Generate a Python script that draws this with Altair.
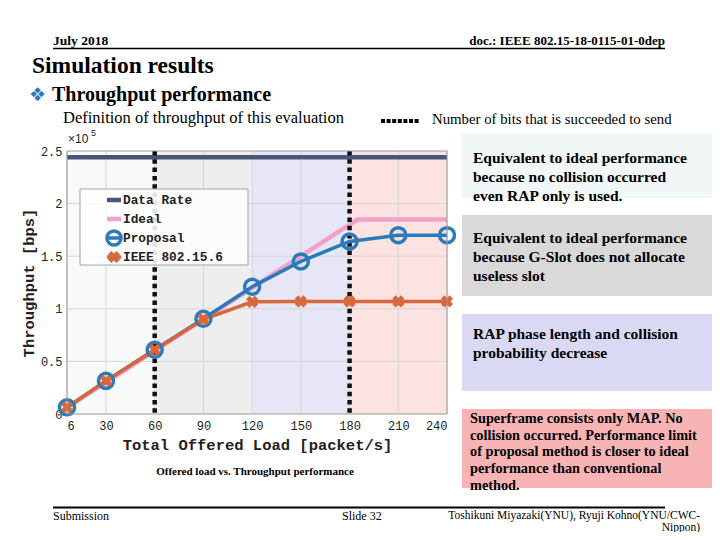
import altair as alt
import pandas as pd

# ---------------- data ----------------
loads = [6, 30, 60, 90, 120, 150, 180, 210, 240]
data_rate = [2.44e5, 2.44e5, 2.44e5, 2.44e5, 2.44e5, 2.44e5, 2.44e5, 2.44e5, 2.44e5]
ideal_x = [6, 30, 60, 90, 120, 150, 180, 185, 210, 240]
ideal_y = [0.06e5, 0.30e5, 0.60e5, 0.90e5, 1.20e5, 1.50e5, 1.80e5, 1.85e5, 1.85e5, 1.85e5]
proposal = [0.063e5, 0.315e5, 0.61e5, 0.905e5, 1.21e5, 1.45e5, 1.64e5, 1.70e5, 1.70e5]
ieee = [0.063e5, 0.315e5, 0.61e5, 0.90e5, 1.066e5, 1.07e5, 1.07e5, 1.07e5, 1.07e5]

band_start = [6, 60, 120, 180]
band_end = [60, 120, 180, 240]
band_name = ["RAP only", "G-Slot", "RAP decrease", "MAP only"]
band_color = ["#f8f9f9", "#eeeeee", "#e6e6f7", "#fde2e2"]
phase_lines = [60, 180]
y_ticks = [0, 0.5e5, 1.0e5, 1.5e5, 2.0e5, 2.5e5]
y_grid = [0.5e5, 1.0e5, 1.5e5, 2.0e5]

series_names = ["Data Rate", "Ideal", "Proposal", "IEEE 802.15.6"]
series_colors = ["#475777", "#f0a2cc", "#2c7bb9", "#d9673b"]

# ---------------- layout ----------------
W, H = 380, 263          # plot area
OX, OY = 67, 151         # page position of plot origin
PAD = {"left": OX - 8, "top": OY - 8, "right": 704 - (OX - 8) - W, "bottom": 524 - (OY - 8) - H}

xs = alt.Scale(domain=[6, 240], nice=False, zero=False)
ys = alt.Scale(domain=[0, 2.5e5], nice=False)

xaxis = alt.Axis(values=loads, title="Total Offered Load [packet/s]", grid=False, ticks=False,
                 domain=False, labelFont="Liberation Mono", labelFontSize=12, labelPadding=6,
                 labelColor="#222", titleFont="Liberation Mono", titleFontSize=15.5,
                 titleFontWeight="bold", titlePadding=6, titleColor="#222")
yaxis = alt.Axis(values=y_ticks, title="Throughput [bps]", grid=False, ticks=False, domain=False,
                 labelExpr="format(datum.value/100000, '~g')", labelFont="Liberation Mono",
                 labelFontSize=12, labelPadding=5, labelColor="#222", titleFont="Liberation Mono",
                 titleFontSize=15.5, titleFontWeight="bold", titlePadding=4, titleColor="#222")

X = alt.X("x:Q", scale=xs, axis=xaxis)
Y = alt.Y("y:Q", scale=ys, axis=yaxis)

bands = pd.DataFrame({"x": band_start, "x2": band_end, "band": band_name})
band_layer = alt.Chart(bands).mark_rect().encode(
    x=X, x2="x2:Q",
    y=alt.value(0), y2=alt.value(H),
    color=alt.Color("band:N", scale=alt.Scale(domain=band_name, range=band_color), legend=None),
)

vgrid = alt.Chart(pd.DataFrame({"x": loads})).mark_rule(color="#d6d6d6", strokeWidth=1).encode(x=X)
hgrid = alt.Chart(pd.DataFrame({"y": y_grid})).mark_rule(color="#d6d6d6", strokeWidth=1).encode(y=Y)

dotted = alt.Chart(pd.DataFrame({"x": phase_lines})).mark_rule(
    color="#111", strokeWidth=4.5, strokeDash=[4.5, 3.8]).encode(x=X)

def series_df(xv, yv):
    return pd.DataFrame({"x": xv, "y": yv})

rate_line = alt.Chart(series_df(loads, data_rate)).mark_line(color=series_colors[0], strokeWidth=4.5).encode(x=X, y=Y)
ideal_line = alt.Chart(series_df(ideal_x, ideal_y)).mark_line(color=series_colors[1], strokeWidth=4.5).encode(x=X, y=Y)
prop_line = alt.Chart(series_df(loads, proposal)).mark_line(color=series_colors[2], strokeWidth=3.5).encode(x=X, y=Y)
prop_pts = alt.Chart(series_df(loads, proposal)).mark_point(
    shape="circle", filled=False, size=225, strokeWidth=3.5, color=series_colors[2], opacity=1).encode(x=X, y=Y)
ieee_line = alt.Chart(series_df(loads, ieee)).mark_line(color=series_colors[3], strokeWidth=3.5).encode(x=X, y=Y)
ieee_pts = alt.Chart(series_df(loads, ieee)).mark_point(
    shape="cross", angle=45, filled=True, size=150, color=series_colors[3], opacity=1).encode(x=X, y=Y)

frame = alt.Chart(pd.DataFrame({"a": [0]})).mark_rect(fill=None, stroke="#9a9a9a", strokeWidth=1).encode(
    x=alt.value(0), x2=alt.value(W), y=alt.value(0), y2=alt.value(H))

one = pd.DataFrame({"a": [0]})

def P(px):
    return px - OX

def Q(py):
    return py - OY

def txt(s, px, py, size, font="Liberation Serif", weight="normal", align="left",
        baseline="alphabetic", color="#000", lh=None):
    mk = dict(text=s, font=font, fontSize=size, fontWeight=weight, align=align,
              baseline=baseline, color=color)
    if lh is not None:
        mk["lineHeight"] = lh
    return alt.Chart(one).mark_text(**mk).encode(x=alt.value(P(px)), y=alt.value(Q(py)))

def box(x1, x2, y1, y2, fill, stroke=None, opacity=1.0):
    mk = dict(fill=fill, opacity=opacity)
    if stroke:
        mk["stroke"] = stroke
        mk["strokeWidth"] = 1
    return alt.Chart(one).mark_rect(**mk).encode(
        x=alt.value(P(x1)), x2=alt.value(P(x2)), y=alt.value(Q(y1)), y2=alt.value(Q(y2)))

def hrule(x1, x2, y, color="#000", width=1.5, dash=None):
    mk = dict(color=color, strokeWidth=width)
    if dash:
        mk["strokeDash"] = dash
    return alt.Chart(one).mark_rule(**mk).encode(
        x=alt.value(P(x1)), x2=alt.value(P(x2)), y=alt.value(Q(y)))

# legend (inside plot)
legend_layers = [box(80, 248, 189, 265, "#ffffff", stroke="#9a9a9a", opacity=0.88)]
leg_y = [200, 219, 238, 257]
leg_w = [4.5, 4.5, 3.5, 3.5]
for name, col, ly, lw in zip(series_names, series_colors, leg_y, leg_w):
    legend_layers.append(hrule(107, 121, ly, color=col, width=lw))
    legend_layers.append(txt(name, 123, ly, 12.8, font="Liberation Mono", weight="bold",
                             baseline="middle", color="#222"))
legend_layers.append(alt.Chart(one).mark_point(shape="circle", filled=False, size=200, strokeWidth=3.5,
                                               color=series_colors[2], opacity=1).encode(
    x=alt.value(P(114)), y=alt.value(Q(238))))
legend_layers.append(alt.Chart(one).mark_point(shape="cross", angle=45, filled=True, size=150,
                                               color=series_colors[3], opacity=1).encode(
    x=alt.value(P(114)), y=alt.value(Q(257))))

# slide decorations
slide = [
    txt("July 2018", 53, 45, 13.5, weight="bold"),
    txt("doc.: IEEE 802.15-18-0115-01-0dep", 665, 45, 13, weight="bold", align="right"),
    hrule(53, 665, 48.5, width=1.5),
    txt("Simulation results", 32, 73, 23.5, weight="bold"),
    txt("\u2756", 29, 101, 19, font="DejaVu Sans", color="#2a78c2"),
    txt("Throughput performance", 52, 101, 20, weight="bold"),
    txt("Definition of throughput of this evaluation", 63, 123, 16.5),
    hrule(381, 419, 121, width=4, dash=[4, 1.6]),
    txt("Number of bits that is succeeded to send", 432, 124, 14.8),
    box(462, 712, 133, 198, "#f1f7f7"),
    box(462, 712, 215, 296, "#d9d9d9"),
    box(462, 712, 314, 391, "#d9d9f3"),
    box(462, 712, 409, 488, "#f8b4b5"),
    txt(["Equivalent to ideal performance", "because no collision occurred", "even RAP only is used."],
        473, 163, 15.5, weight="bold", lh=19),
    txt(["Equivalent to ideal performance", "because G-Slot does not allocate", "useless slot"],
        473, 243, 15.5, weight="bold", lh=19),
    txt(["RAP phase length and collision", "probability decrease"],
        473, 339, 15.5, weight="bold", lh=19),
    txt(["Superframe consists only MAP. No", "collision occurred. Performance limit",
         "of proposal method is closer to ideal", "performance than conventional", "method."],
        470, 423, 14.3, weight="bold", lh=16.7),
    txt("Offered load vs. Throughput performance", 255, 475, 11, weight="bold", align="center"),
    txt("\u00d710", 68, 143, 12, font="Liberation Sans", color="#222"),
    txt("5", 91, 136, 9, font="Liberation Sans", color="#222"),
    hrule(53, 665, 507.5, width=2),
    txt("Submission", 53, 520, 12),
    txt("Slide 32", 342, 520, 12),
    txt("Toshikuni Miyazaki(YNU), Ryuji Kohno(YNU/CWC-", 700, 519, 11.5, align="right"),
    txt("Nippon)", 700, 531, 11.5, align="right"),
]

chart = alt.layer(
    band_layer, vgrid, hgrid, rate_line, ideal_line, dotted,
    prop_line, ieee_line, prop_pts, ieee_pts, frame,
    *legend_layers, *slide
).properties(
    width=W, height=H, padding=PAD,
    autosize=alt.AutoSizeParams(type="none"),
    background="white",
).configure_view(stroke=None)

chart.save("out.html", embed_options={"renderer": "svg", "actions": False})
